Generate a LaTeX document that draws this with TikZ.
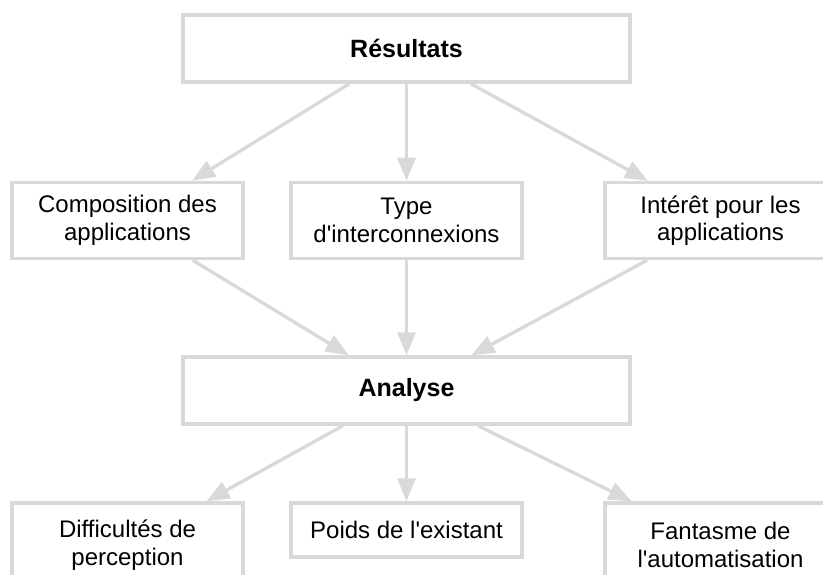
\documentclass[tikz,border=0pt]{standalone}
\usepackage{fontspec}
\setmainfont{Liberation Sans}
\usetikzlibrary{arrows.meta}
\definecolor{edgegray}{RGB}{217,217,217}
\newcommand{\apos}{\textquotesingle}
\begin{document}
\begin{tikzpicture}[x=1pt,y=-1pt,
  box/.style={draw=edgegray, line width=3.5pt, fill=white, align=center, inner sep=0pt,
    minimum width=231pt, minimum height=76pt, font=\fontsize{24}{27.5}\selectfont},
  bigbox/.style={box, minimum width=447pt, minimum height=67pt, font=\fontsize{25}{28}\selectfont\bfseries},
  tallbox/.style={box, minimum height=84pt},
  smallbox/.style={box, minimum height=54pt},
  conn/.style={draw=edgegray, line width=3.3pt, -{Triangle[length=23pt,width=18pt]}}]
\useasboundingbox (0,0) rectangle (823,575);
\clip (0,0) rectangle (823,575);
\node[bigbox] (res) at (406.5,48.5) {Résultats};
\node[box] (comp) at (127.5,220.5) {Composition des\\applications};
\node[box] (type) at (406.5,220.5) {Type\\d\apos interconnexions};
\node[box] (inter) at (720.5,220.5) {Intérêt pour les\\applications};
\node[bigbox] (ana) at (406.5,390.5) {Analyse};
\node[tallbox] (diff) at (127.5,545) {Difficultés de\\perception};
\node[smallbox] (poids) at (406.5,530) {Poids de l\apos existant};
\node[tallbox] (fant) at (720.5,545) {Fantasme de\\l\apos automatisation};
\draw[conn] (res) -- (comp);
\draw[conn] (res) -- (type);
\draw[conn] (res) -- (inter);
\draw[conn] (comp) -- (ana);
\draw[conn] (type) -- (ana);
\draw[conn] (inter) -- (ana);
\draw[conn] (ana) -- (diff);
\draw[conn] (ana) -- (poids);
\draw[conn] (ana) -- (fant);
\end{tikzpicture}
\end{document}
